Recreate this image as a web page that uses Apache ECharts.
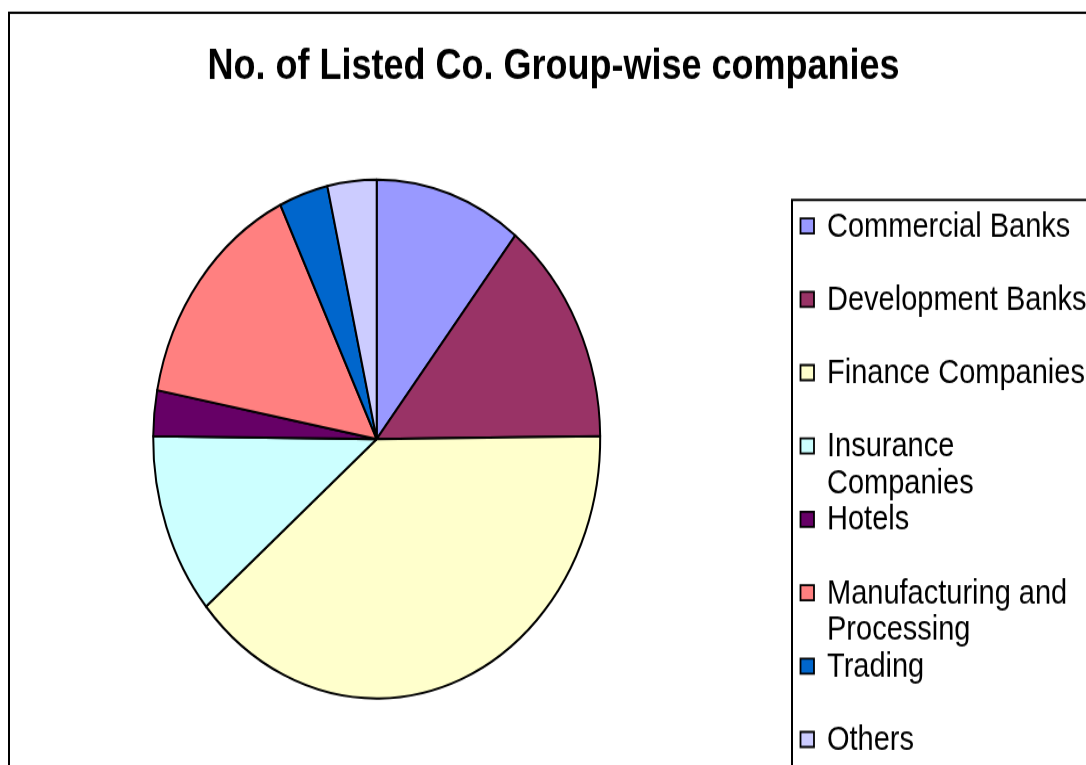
<!DOCTYPE html>
<html>
<head>
<meta charset="utf-8">
<title>No. of Listed Co. Group-wise companies</title>
<script src="https://cdn.jsdelivr.net/npm/echarts@6/dist/echarts.min.js"></script>
<style>
  html, body { margin: 0; padding: 0; background: #ffffff; overflow: hidden; }
  #wrap { width: 1086px; height: 765px; overflow: hidden; position: relative; background: #fff; }
  /* the chart is drawn on a squat canvas and stretched vertically, giving the oval pie */
  #chart { position: absolute; left: 0; top: 0; width: 1086px; height: 659px;
           transform: scaleY(1.1608); transform-origin: 0 0; }
</style>
</head>
<body>
<div id="wrap"><div id="chart"></div></div>
<script>
// Listed companies by group
const titleText = 'No. of Listed Co. Group-wise companies';
const categories = [
  'Commercial Banks',
  'Development Banks',
  'Finance Companies',
  'Insurance Companies',
  'Hotels',
  'Manufacturing and Processing',
  'Trading',
  'Others'
];
// legend text, wrapped as in the legend box
const legendLabels = [
  'Commercial Banks',
  'Development Banks',
  'Finance Companies',
  'Insurance\nCompanies',
  'Hotels',
  'Manufacturing and\nProcessing',
  'Trading',
  'Others'
];
const counts = [15, 20, 55, 16, 4, 21, 5, 5];
const colors = ['#9999FF', '#993366', '#FFFFCC', '#CCFFFF', '#660066', '#FF8080', '#0066CC', '#CCCCFF'];

const FONT = "'Liberation Sans', Arial, sans-serif";

const chart = echarts.init(document.getElementById('chart'), null, { renderer: 'canvas' });

// legend box entries: swatch + label
const legendTop = 194.6;
const legendStep = 63.2;
const lineH = 31.6;
const legendItems = [];
categories.forEach((name, i) => {
  const cy = legendTop + i * legendStep;
  legendItems.push({
    type: 'rect',
    shape: { x: 800.5, y: cy - 6.5, width: 13.5, height: 13 },
    style: { fill: colors[i], stroke: '#000', lineWidth: 1.8 },
    silent: true
  });
  legendItems.push({
    type: 'text',
    x: 827,
    y: cy - lineH / 2 + 1,
    style: {
      text: legendLabels[i],
      fill: '#000',
      font: '29px ' + FONT,
      lineHeight: lineH,
      align: 'left',
      verticalAlign: 'top'
    },
    silent: true
  });
});

chart.setOption({
  backgroundColor: '#ffffff',
  animation: false,
  graphic: [
    // outer chart frame
    {
      type: 'rect',
      shape: { x: 9, y: 10.9, width: 1200, height: 800 },
      style: { fill: 'none', stroke: '#000', lineWidth: 2 },
      silent: true, z: 0
    },
    // title
    {
      type: 'text',
      x: 553.5,
      y: 58.4,
      style: {
        text: titleText,
        fill: '#000',
        font: 'bold 36px ' + FONT,
        align: 'center',
        verticalAlign: 'middle'
      },
      silent: true
    },
    // legend frame
    {
      type: 'rect',
      shape: { x: 792, y: 172.3, width: 400, height: 600 },
      style: { fill: '#fff', stroke: '#000', lineWidth: 2 },
      silent: true
    }
  ].concat(legendItems),
  series: [{
    type: 'pie',
    center: [376.7, 378.2],
    radius: 223.5,
    startAngle: 90,
    clockwise: true,
    avoidLabelOverlap: false,
    label: { show: false },
    labelLine: { show: false },
    emphasis: { disabled: true },
    itemStyle: { borderColor: '#000', borderWidth: 2 },
    data: categories.map((name, i) => ({
      name: name,
      value: counts[i],
      itemStyle: { color: colors[i] }
    }))
  }]
});
</script>
</body>
</html>
